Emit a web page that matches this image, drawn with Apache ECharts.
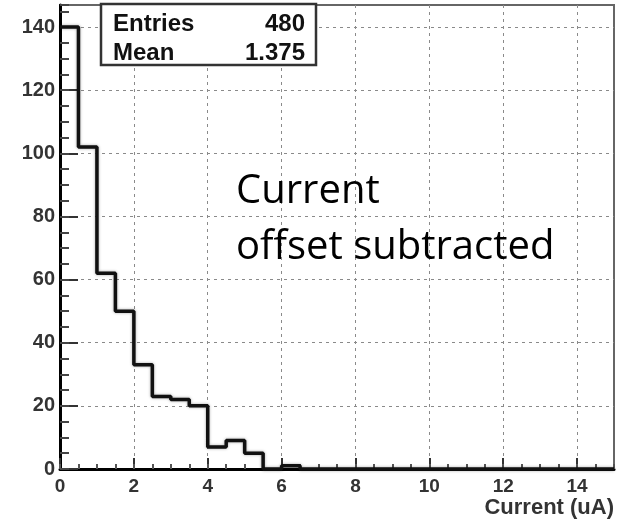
<!DOCTYPE html>
<html>
<head>
<meta charset="utf-8">
<script src="https://cdn.jsdelivr.net/npm/echarts@6/dist/echarts.min.js"></script>
<style>
html,body{margin:0;padding:0;background:#fff;}
#chart{width:619px;height:521px;}
</style>
</head>
<body>
<div id="chart"></div>
<script>
// Histogram bin edges (uA) and counts per bin (bin width 0.5)
var binEdges = [0,0.5,1,1.5,2,2.5,3,3.5,4,4.5,5,5.5,6,6.5,7,7.5,8,8.5,9,9.5,10,10.5,11,11.5,12,12.5,13,13.5,14,14.5,15];
var binCounts = [140,102,62,50,33,23,22,20,7,9,5,0,1,0,0,0,0,0,0,0,0,0,0,0,0,0,0,0,0,0];
var yTickValues = [0,20,40,60,80,100,120,140];
var xTickValues = [0,2,4,6,8,10,12,14];
var statsLabels = ['Entries','Mean'];
var statsValues = ['480','1.375'];
var annotationLines = ['Current','offset subtracted'];
var xTitle = 'Current (uA)';

var stepData = [];
for (var i = 0; i < binCounts.length; i++) stepData.push([binEdges[i], binCounts[i]]);
stepData.push([binEdges[binEdges.length-1], binCounts[binCounts.length-1]]);

var chart = echarts.init(document.getElementById('chart'), null, {renderer:'canvas'});
var labelFont = {fontFamily:'Liberation Sans', fontWeight:'bold', color:'#333'};
var gridLine = {show:true, lineStyle:{color:'#8a8a8a', type:[3,4], width:1}};

var option = {
  backgroundColor:'#fff',
  animation:false,
  grid:{left:60, right:5, top:5, bottom:52, show:true, borderColor:'#666', borderWidth:2, backgroundColor:'transparent'},
  xAxis:[{
    type:'value', min:0, max:15, interval:2,
    axisLine:{show:true, onZero:false, lineStyle:{color:'#000', width:3}},
    axisTick:{show:true, inside:true, length:11, lineStyle:{color:'#333', width:2}, customValues:xTickValues},
    axisLabel:Object.assign({fontSize:19, margin:8, customValues:xTickValues}, labelFont),
    splitLine:gridLine,
    name:xTitle, nameLocation:'end', nameGap:0,
    nameTextStyle:{fontFamily:'Liberation Sans', fontWeight:'bold', fontSize:22, color:'#333', align:'right', verticalAlign:'top', padding:[28,0,0,0]}
  },{
    type:'value', min:0, max:15, interval:0.5, position:'bottom',
    axisLine:{show:false}, axisLabel:{show:false}, splitLine:{show:false},
    axisTick:{show:true, inside:true, length:5, lineStyle:{color:'#555', width:2}}
  }],
  yAxis:[{
    type:'value', min:0, max:147, interval:20,
    axisLine:{show:true, onZero:false, lineStyle:{color:'#000', width:3}},
    axisTick:{show:true, inside:true, length:18, lineStyle:{color:'#333', width:2}, customValues:yTickValues},
    axisLabel:Object.assign({fontSize:20, margin:5, customValues:yTickValues}, labelFont),
    splitLine:gridLine
  },{
    type:'value', min:0, max:147, interval:5, position:'left',
    axisLine:{show:false}, axisLabel:{show:false}, splitLine:{show:false},
    axisTick:{show:true, inside:true, length:9, lineStyle:{color:'#444', width:2}}
  }],
  series:[{
    type:'line', step:'end', data:stepData, xAxisIndex:0, yAxisIndex:0,
    symbol:'none', clip:false, z:5,
    lineStyle:{color:'#111', width:3.5, shadowColor:'rgba(0,0,0,0.35)', shadowBlur:3}
  }],
  graphic:[
    {type:'rect', z:100, shape:{x:101, y:4, width:215, height:61}, style:{fill:'#fff', stroke:'#333', lineWidth:2.5}},
    {type:'text', z:101, x:113, y:24, style:{text:statsLabels[0], fontFamily:'Liberation Sans', fontWeight:'bold', fontSize:24, fill:'#111', verticalAlign:'middle'}},
    {type:'text', z:101, x:305, y:24, style:{text:statsValues[0], fontFamily:'Liberation Sans', fontWeight:'bold', fontSize:24, fill:'#111', align:'right', verticalAlign:'middle'}},
    {type:'text', z:101, x:113, y:53, style:{text:statsLabels[1], fontFamily:'Liberation Sans', fontWeight:'bold', fontSize:24, fill:'#111', verticalAlign:'middle'}},
    {type:'text', z:101, x:305, y:53, style:{text:statsValues[1], fontFamily:'Liberation Sans', fontWeight:'bold', fontSize:24, fill:'#111', align:'right', verticalAlign:'middle'}},
    {type:'text', z:101, x:236, y:172, style:{text:annotationLines[0], fontFamily:'Open Sans', fontSize:40, fill:'#000', verticalAlign:'alphabetic'}},
    {type:'text', z:101, x:236, y:228, style:{text:annotationLines[1], fontFamily:'Open Sans', fontSize:40, fill:'#000', verticalAlign:'alphabetic'}}
  ]
};
chart.setOption(option);
</script>
</body>
</html>
